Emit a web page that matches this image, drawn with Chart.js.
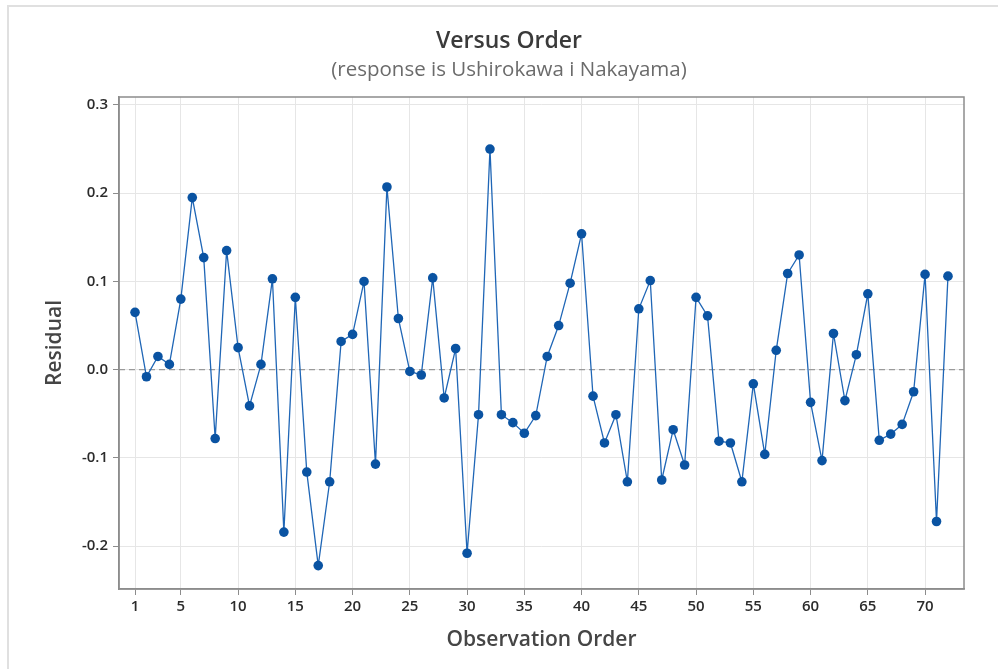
<!DOCTYPE html>
<html>
<head>
<meta charset="utf-8">
<title>Versus Order</title>
<script src="https://cdn.jsdelivr.net/npm/chart.js@4.4.1/dist/chart.umd.min.js"></script>
<style>
  html, body { margin: 0; padding: 0; background: #fff; }
  canvas { display: block; }
</style>
</head>
<body>
<canvas id="orderChart" width="998" height="669"></canvas>
<script>
/* globals Chart:false */

// residuals by observation order
const residuals = [
  0.065, -0.008, 0.015, 0.006, 0.080, 0.195, 0.127, -0.078, 0.135, 0.025,
  -0.041, 0.006, 0.103, -0.184, 0.082, -0.116, -0.222, -0.127, 0.032, 0.040,
  0.100, -0.107, 0.207, 0.058, -0.002, -0.006, 0.104, -0.032, 0.024, -0.208,
  -0.051, 0.250, -0.051, -0.060, -0.072, -0.052, 0.015, 0.050, 0.098, 0.154,
  -0.030, -0.083, -0.051, -0.127, 0.069, 0.101, -0.125, -0.068, -0.108, 0.082,
  0.061, -0.081, -0.083, -0.127, -0.016, -0.096, 0.022, 0.109, 0.130, -0.037,
  -0.103, 0.041, -0.035, 0.017, 0.086, -0.080, -0.073, -0.062, -0.025, 0.108,
  -0.172, 0.106
]
const observations = residuals.map((_, i) => i + 1)

const xTicks = [1, 5, 10, 15, 20, 25, 30, 35, 40, 45, 50, 55, 60, 65, 70]
const yTicks = [-0.2, -0.1, 0.0, 0.1, 0.2, 0.3]

const xRange = [-0.4, 73.4]
const yRange = [-0.2485, 0.309]

const fontFamily = "'Open Sans', 'Noto Sans', sans-serif"

// light frame round the graph and a full box round the plot area
const frame = {
  id: 'frame',
  beforeDraw (chart) {
    const c = chart.ctx
    c.save()
    c.strokeStyle = '#e0e0e0'
    c.lineWidth = 2
    c.beginPath()
    c.moveTo(8, chart.height)
    c.lineTo(8, 6)
    c.lineTo(chart.width, 6)
    c.stroke()
    c.restore()
  },
  afterDatasetsDraw (chart) {
    const a = chart.chartArea
    const c = chart.ctx
    c.save()
    c.strokeStyle = '#8c8c8c'
    c.lineWidth = 1.5
    c.strokeRect(a.left, a.top, a.right - a.left, a.bottom - a.top)
    c.restore()
  }
}

const ctx = document.getElementById('orderChart')

new Chart(ctx, {
  type: 'line',
  data: {
    datasets: [{
      data: observations.map((x, i) => ({ x, y: residuals[i] })),
      borderColor: '#1f66b6',
      borderWidth: 1.3,
      pointRadius: 4.8,
      pointHoverRadius: 4.8,
      pointBackgroundColor: '#0a53a2',
      pointBorderWidth: 0,
      lineTension: 0,
      order: 1
    }, {
      // reference line at zero
      data: [{ x: xRange[0], y: 0 }, { x: xRange[1], y: 0 }],
      borderColor: '#9a9a9a',
      borderWidth: 1.3,
      borderDash: [6, 4],
      pointRadius: 0,
      order: 2
    }]
  },
  options: {
    responsive: false,
    animation: false,
    layout: {
      padding: { left: 54, right: 34, top: 0, bottom: 0 }
    },
    scales: {
      x: {
        type: 'linear',
        min: xRange[0],
        max: xRange[1],
        afterBuildTicks: (axis) => { axis.ticks = xTicks.map(v => ({ value: v })) },
        afterFit: (axis) => { axis.height = 80 },
        grid: { color: '#e6e6e6', tickColor: '#8c8c8c', tickLength: 6 },
        border: { color: '#8c8c8c', width: 1.5 },
        ticks: {
          color: '#2b2b2b',
          padding: 3,
          maxRotation: 0,
          autoSkip: false,
          font: { family: fontFamily, size: 15, weight: '600' }
        },
        title: {
          display: true,
          text: 'Observation Order',
          color: '#454545',
          padding: { bottom: 16 },
          font: { family: fontFamily, size: 21, weight: '600' }
        }
      },
      y: {
        min: yRange[0],
        max: yRange[1],
        afterBuildTicks: (axis) => { axis.ticks = yTicks.map(v => ({ value: v })) },
        afterFit: (axis) => { axis.width = 65 },
        grid: { color: '#e6e6e6', tickColor: '#8c8c8c', tickLength: 6 },
        border: { color: '#8c8c8c', width: 1.5 },
        ticks: {
          color: '#2b2b2b',
          padding: 5,
          callback: (v) => Number(v).toFixed(1),
          font: { family: fontFamily, size: 15, weight: '600' }
        },
        title: {
          display: true,
          text: 'Residual',
          color: '#454545',
          padding: { top: -11.6 },
          font: { family: fontFamily, size: 21, weight: '600' }
        }
      }
    },
    plugins: {
      legend: { display: false },
      tooltip: { enabled: false },
      title: {
        display: true,
        text: 'Versus Order',
        color: '#3a3a3a',
        padding: { top: 27.7, bottom: 2.4 },
        font: { family: fontFamily, size: 23, weight: '600' }
      },
      subtitle: {
        display: true,
        text: '(response is Ushirokawa i Nakayama)',
        color: '#6b6b6b',
        padding: { top: 0, bottom: 14.7 },
        font: { family: fontFamily, size: 20.5, weight: 'normal' }
      }
    }
  },
  plugins: [frame]
})
</script>
</body>
</html>
